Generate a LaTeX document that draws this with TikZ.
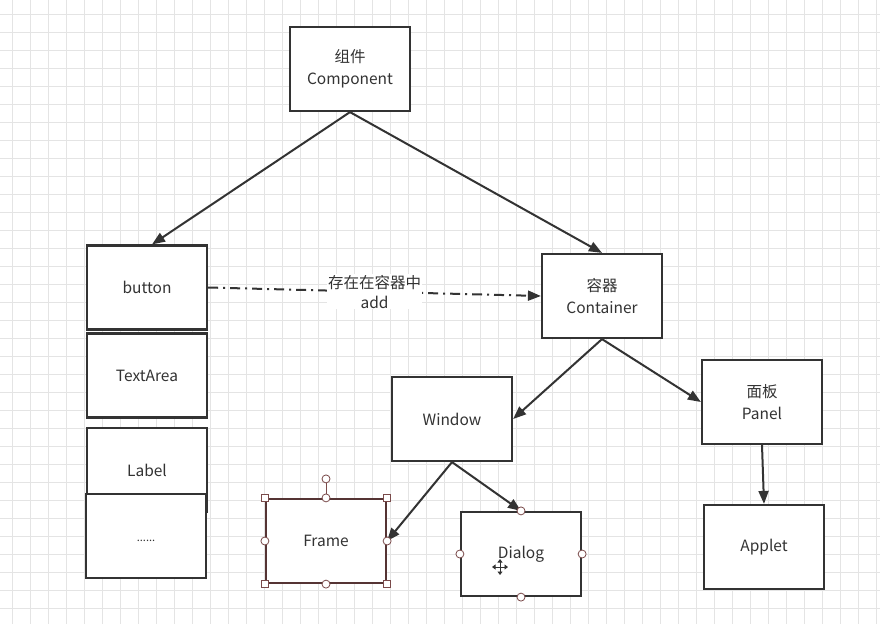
\documentclass[tikz,border=0pt]{standalone}
\usepackage{fontspec}
\setmainfont{Noto Sans CJK SC}
\usetikzlibrary{arrows.meta, positioning}

\definecolor{linegray}{HTML}{333333}
\definecolor{gridgray}{HTML}{E4E4E4}
\definecolor{handlered}{HTML}{7A4A4A}

\begin{document}
\begin{tikzpicture}[
    x=1pt, y=-1pt,
    font=\fontsize{15.5}{22}\selectfont,
    text=linegray,
    arrow/.style={-{Triangle[length=13pt, width=10pt]}, line width=2pt, draw=linegray},
    dasharrow/.style={arrow, dash pattern=on 10pt off 5pt on 2pt off 5pt},
    box/.style={rectangle, draw=linegray, line width=2.2pt, fill=white, align=center, minimum width=120pt, minimum height=84pt, inner sep=0pt},
    handle/.style={circle, draw=handlered, line width=0.8pt, fill=white, minimum size=8pt, inner sep=0pt},
    corner/.style={rectangle, draw=handlered, line width=0.8pt, fill=white, minimum size=7pt, inner sep=0pt}
]
\useasboundingbox (0,0) rectangle (880,624);
\fill[white] (0,0) rectangle (880,624);
% grid
\foreach \gx in {12,30,...,880} \draw[gridgray, line width=0.8pt] (\gx,0) -- (\gx,624);
\foreach \gy in {14,32,...,624} \draw[gridgray, line width=0.8pt] (0,\gy) -- (880,\gy);

\node[box] (comp) at (350,69) {组件\\Component};
\node[box] (button) at (147,287.5) {button};
\node[box] (textarea) at (147,375.5) {TextArea};
\node[box] (label) at (147,470) {Label};
\node[box, text height=0pt, text depth=0pt, font=\fontsize{11}{13}\selectfont] (more) at (146,536) {\raisebox{-5pt}{......}};
\node[box] (cont) at (602,296) {容器\\Container};
\node[box] (win) at (452,419) {Window};
\node[box] (panel) at (762,402) {面板\\Panel};
\node[box, draw=handlered!70!black] (frame) at (326,541) {Frame};
\node[box] (dialog) at (521,554) {Dialog};
\node[box] (applet) at (764,547) {Applet};

\draw[arrow] (comp.south) -- ([xshift=5pt]button.north);
\draw[arrow] (comp.south) -- (cont.north);
\draw[dasharrow] (button.east) -- node[fill=white, align=center, inner sep=1pt, font=\fontsize{15.5}{20}\selectfont]{存在在容器中\\add} (cont.west);
\draw[arrow] (cont.south) -- (win.east);
\draw[arrow] (cont.south) -- (panel.west);
\draw[arrow] (win.south) -- (frame.east);
\draw[arrow] (win.south) -- (dialog.north);
\draw[arrow] (panel.south) -- (applet.north);

% selection handles
\draw[handlered, line width=0.8pt] (frame.north) -- ++(0,-19) node[handle] (rot) {};
\foreach \a in {north, south, east, west} \node[handle] at (frame.\a) {};
\foreach \a in {north east, north west, south east, south west} \node[corner] at (frame.\a) {};
\foreach \a in {north, south, east, west} \node[handle] at (dialog.\a) {};

% move cursor
\coordinate (mv) at (500,567);
\foreach \d in {0,90,180,270}
  \draw[-{Triangle[length=3.5pt, width=5pt]}, linegray, line width=0.9pt] (mv) -- ++(\d:8pt);
\end{tikzpicture}
\end{document}
